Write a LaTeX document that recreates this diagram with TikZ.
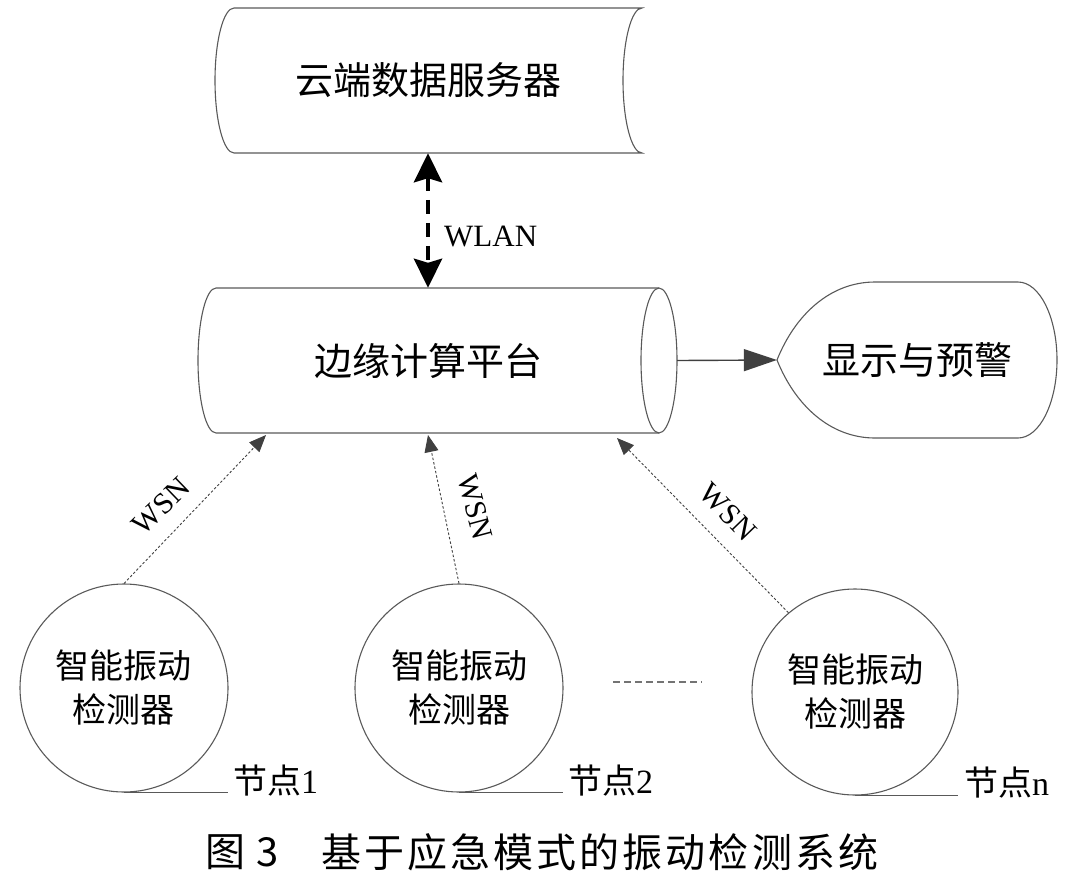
\documentclass[tikz,border=0pt]{standalone}
\usepackage{fontspec}
\setmainfont{Liberation Serif}
\newfontfamily\cjk{Noto Sans CJK SC}
\usetikzlibrary{arrows.meta,calc}
\begin{document}
\begin{tikzpicture}[x=1pt,y=1pt,
  outline/.style={draw=black!65, line width=1.1pt},
  bigtext/.style={font=\fontsize{38}{44}\selectfont\cjk, inner sep=0pt},
  sensor/.style={circle, outline, minimum size=208pt, inner sep=0pt, align=center,
                 font=\fontsize{34}{44}\selectfont\cjk},
  nodelabel/.style={anchor=west, inner xsep=5pt, inner ysep=0pt, font=\fontsize{34}{40}\selectfont},
  labelline/.style={draw=black!65, line width=1pt},
  wsn/.style={draw=black!75, line width=0.9pt, dash pattern=on 2.5pt off 2pt,
              -{Triangle[length=17pt,width=14pt]}},
  wsntext/.style={font=\fontsize{30}{34}\selectfont, inner sep=0pt},
  wlan/.style={line width=4.5pt, dash pattern=on 14pt off 9pt,
               {Stealth[length=29pt,width=28pt,inset=4pt]}-{Stealth[length=29pt,width=28pt,inset=4pt]}},
  solidarrow/.style={draw=black!75, line width=1.4pt, -{Triangle[length=33pt,width=22pt]}}
]
\useasboundingbox (0,0) rectangle (1080,-879);

% cloud data server (stored-data shape)
\draw[outline] (234,-8) -- (642,-8)
  arc[start angle=90, end angle=270, x radius=19, y radius=72.5]
  -- (234,-153)
  arc[start angle=270, end angle=90, x radius=19, y radius=72.5] -- cycle;
\node[bigtext, minimum height=145pt, minimum width=300pt] (srv) at (428,-80.5) {云端数据服务器};

% edge computing platform (cylinder)
\draw[outline] (216,-288) -- (659,-288)
  arc[start angle=90, end angle=-90, x radius=18, y radius=72.5]
  -- (216,-433)
  arc[start angle=270, end angle=90, x radius=18, y radius=72.5] -- cycle;
\draw[outline] (659,-288) arc[start angle=90, end angle=270, x radius=18, y radius=72.5];
\node[bigtext, minimum height=145pt, minimum width=498pt] (edge) at (428,-360.5) {边缘计算平台};

% display & warning (display shape)
\draw[outline] (875,-282) -- (1018,-282)
  arc[start angle=90, end angle=-90, x radius=39, y radius=78]
  -- (875,-438)
  .. controls (830,-438) and (795,-405) .. (777,-360)
  .. controls (795,-315) and (830,-282) .. (875,-282) -- cycle;
\node[bigtext, minimum height=156pt, minimum width=280pt] (disp) at (917,-360) {显示与预警};

% WLAN link
\draw[wlan] (srv.south) -- (edge.north);
\node[anchor=west, font=\fontsize{31}{36}\selectfont, inner sep=0pt] (wlanlbl) at (444,-236) {WLAN};

% edge -> display
\draw[solidarrow] (edge.east) -- (disp.west);

% sensors
\node[sensor] (c1) at (124,-688) {智能振动\\检测器};
\node[sensor] (c2) at (459,-688) {智能振动\\检测器};
\node[sensor, minimum size=206pt] (c3) at (855,-692) {智能振动\\检测器};

% WSN links
\coordinate (t1) at (266,-435);
\coordinate (t2) at (428,-435);
\coordinate (t3) at (617,-438);
\draw[wsn] (c1.north) -- (t1);
\draw[wsn] (c2.north) -- (t2);
\draw[wsn] (c3.130) -- (t3);
\node[wsntext, rotate=44] (w1) at (161,-506) {WSN};
\node[wsntext, rotate=-75] (w2) at (475,-507) {WSN};
\node[wsntext, rotate=-46] (w3) at (728,-512) {WSN};

% node labels
\node[nodelabel] (l1) at (228,-781) {{\cjk 节点}1};
\node[nodelabel] (l2) at (563,-781) {{\cjk 节点}2};
\node[nodelabel, inner xsep=6pt] (l3) at (958,-783) {{\cjk 节点}n};
\draw[labelline] (c1.south) -- (c1.south -| l1.west);
\draw[labelline] (c2.south) -- (c2.south -| l2.west);
\draw[labelline] (c3.south) -- (c3.south -| l3.west);

% ellipsis between sensors
\draw[draw=black!55, line width=1.6pt, dash pattern=on 7pt off 4pt] (613,-682) -- (702,-682);

% caption
\node[anchor=west, inner sep=0pt, font=\fontsize{40}{48}\selectfont\cjk] (cap1) at (205,-852) {图\hspace{11pt}3};
\node[anchor=west, inner sep=0pt, font=\fontsize{40}{48}\selectfont\cjk] (cap2) at (321,-852)
  {\makebox[557pt]{基\hfill 于\hfill 应\hfill 急\hfill 模\hfill 式\hfill 的\hfill 振\hfill 动\hfill 检\hfill 测\hfill 系\hfill 统}};
\end{tikzpicture}
\end{document}
